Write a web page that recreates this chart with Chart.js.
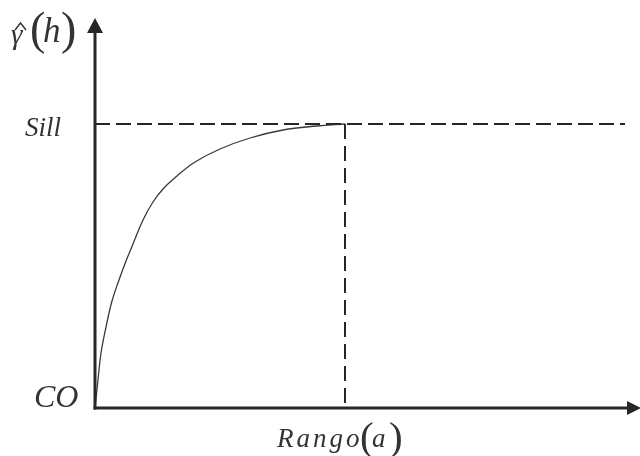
<!DOCTYPE html>
<html>
<head>
<meta charset="utf-8">
<script src="https://cdn.jsdelivr.net/npm/chart.js@4"></script>
<style>
  html, body { margin: 0; padding: 0; background: #fff; }
  #wrap { width: 640px; height: 456px; }
</style>
</head>
<body>
<div id="wrap"><canvas id="vario"></canvas></div>
<script>
// ============== data ==============
// distance h (x) and semivariance (y)
var lagH = [0, 3, 6, 11, 17, 24, 31, 38, 48, 58, 68, 82, 100, 125, 155, 188, 222, 250];
var gammaH = [0, 28, 55, 81, 107, 128, 147, 164, 188, 206, 219, 232, 246, 259, 270, 278, 282, 284];
var sill = 284;
var rango = 250;
var sillEnd = 530;
var labels = { gamma: 'γ', h: 'h', sill: 'Sill', nugget: 'CO', rango: 'Rango', a: 'a' };

var ink = '#262626';
var serif = '"Liberation Serif", "Times New Roman", Times, serif';

var curvePts = lagH.map(function (x, i) { return { x: x, y: gammaH[i] }; });

// axes, arrows and text labels
var sketchPlugin = {
  id: 'sketch',
  afterDatasetsDraw: function (chart) {
    var c = chart.ctx;
    var xs = chart.scales.x, ys = chart.scales.y;
    var x0 = xs.getPixelForValue(0), y0 = ys.getPixelForValue(0);
    c.save();
    c.strokeStyle = ink;
    c.fillStyle = ink;
    c.lineWidth = 3;
    // y axis
    c.beginPath();
    c.moveTo(x0, y0 + 1.5);
    c.lineTo(x0, 30);
    c.stroke();
    c.beginPath();
    c.moveTo(x0, 18);
    c.lineTo(x0 - 8, 33);
    c.lineTo(x0 + 8, 33);
    c.closePath();
    c.fill();
    // x axis
    c.beginPath();
    c.moveTo(x0 - 1.5, y0);
    c.lineTo(628, y0);
    c.stroke();
    c.beginPath();
    c.moveTo(641, y0);
    c.lineTo(627, y0 - 7);
    c.lineTo(627, y0 + 7);
    c.closePath();
    c.fill();

    // labels
    c.fillStyle = '#333';
    c.strokeStyle = '#333';
    c.textBaseline = 'alphabetic';
    c.textAlign = 'left';
    // gamma hat (h)
    c.font = 'italic 29px ' + serif;
    c.fillText(labels.gamma, 11, 44);
    c.lineWidth = 1.4;
    c.beginPath();
    c.moveTo(15, 30);
    c.lineTo(20.5, 23);
    c.lineTo(26, 30);
    c.stroke();
    c.font = '46px ' + serif;
    c.fillText('(', 30, 44);
    c.font = 'italic 35px ' + serif;
    c.fillText(labels.h, 43, 42);
    c.font = '46px ' + serif;
    c.fillText(')', 61, 44);

    c.font = 'italic 27px ' + serif;
    c.fillText(labels.sill, 25, ys.getPixelForValue(sill) + 12);

    c.font = 'italic 32px ' + serif;
    c.fillText(labels.nugget, 34, y0 - 1);

    c.font = 'italic 27px ' + serif;
    var tx = 277;
    labels.rango.split('').forEach(function (ch) {
      c.fillText(ch, tx, 447);
      tx += c.measureText(ch).width + 3;
    });
    c.font = '41px ' + serif;
    c.fillText('(', 360, 450);
    c.font = 'italic 27px ' + serif;
    c.fillText(labels.a, 372, 447);
    c.font = '41px ' + serif;
    c.fillText(')', 389, 450);
    c.restore();
  }
};

var ctx = document.getElementById('vario');
var myChart = new Chart(ctx, {
  type: 'scatter',
  data: {
    datasets: [{
      label: 'Sill',
      data: [{ x: 0, y: sill }, { x: sillEnd, y: sill }],
      showLine: true,
      borderColor: ink,
      borderWidth: 2,
      borderDash: [15, 6],
      pointRadius: 0
    }, {
      label: 'Rango',
      data: [{ x: rango, y: sill }, { x: rango, y: 0 }],
      showLine: true,
      borderColor: ink,
      borderWidth: 2,
      borderDash: [15, 7],
      pointRadius: 0
    }, {
      label: 'Variograma',
      data: curvePts,
      showLine: true,
      borderColor: '#3a3a3a',
      borderWidth: 1.3,
      tension: 0.4,
      pointRadius: 0
    }]
  },
  options: {
    responsive: true,
    maintainAspectRatio: false,
    animation: false,
    layout: { padding: { left: 95, right: 0, top: 16, bottom: 48 } },
    plugins: { legend: { display: false }, tooltip: { enabled: false } },
    scales: {
      x: { type: 'linear', min: 0, max: 545, display: false },
      y: { type: 'linear', min: 0, max: 392, display: false }
    }
  },
  plugins: [sketchPlugin]
});
</script>
</body>
</html>
